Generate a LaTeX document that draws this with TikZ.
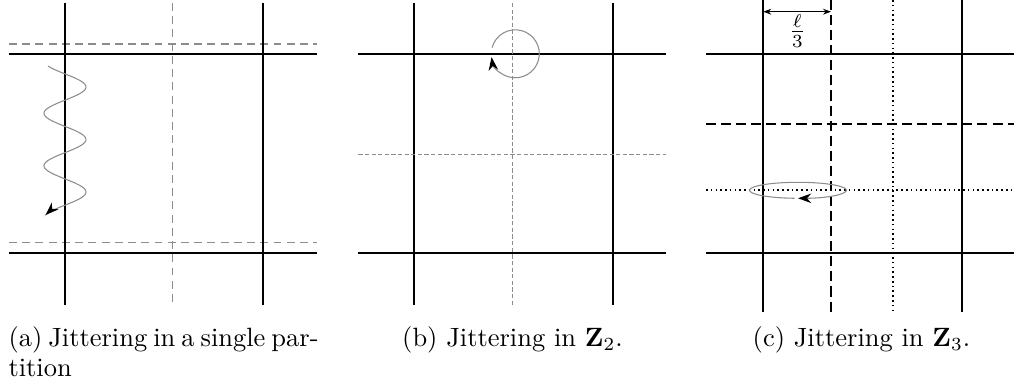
\documentclass[tikz,border=0pt]{standalone}
\usepackage{amsmath}
\usetikzlibrary{arrows.meta}
\begin{document}
\begin{tikzpicture}[x=0.378pt,y=-0.378pt,
  solidline/.style={line width=0.75pt,black},
  graydash/.style={line width=0.6pt,black!45,dash pattern=on 3pt off 2pt},
  grayfine/.style={line width=0.45pt,black!45,dash pattern=on 1.6pt off 0.9pt},
  blackdash/.style={line width=0.7pt,black,dash pattern=on 3.8pt off 1.9pt},
  blackdot/.style={line width=0.7pt,black,dash pattern=on 0.6pt off 1.2pt},
  jitter/.style={line width=0.4pt,black!45},
  bigtip/.style={-{Stealth[black,length=5pt,width=3.6pt]}},
  captext/.style={inner sep=0pt,anchor=base}]
\useasboundingbox (0,0) rectangle (1014,387);

% ---------- panel (a)
\draw[graydash] (9,44) -- (317,44);
\draw[graydash] (9,242.3) -- (317,242.3);
\draw[solidline] (9,54.3) -- (317,54.3);
\draw[solidline] (9,252.7) -- (317,252.7);
\draw[solidline] (65,3) -- (65,305);
\draw[solidline] (263,3) -- (263,305);
\draw[graydash] (172.7,3) -- (172.7,305);
\draw[jitter,bigtip] plot[domain=66:215,samples=150,smooth]
  ({65+21*sin((\x-73.9)*6.857)},\x);

% ---------- panel (b)
\draw[solidline] (358.3,54.3) -- (666,54.3);
\draw[solidline] (358.3,252.7) -- (666,252.7);
\draw[solidline] (414.3,3) -- (414.3,305);
\draw[solidline] (612.7,3) -- (612.7,305);
\draw[grayfine] (512.7,3) -- (512.7,305);
\draw[grayfine] (358.3,154.7) -- (666,154.7);
\coordinate (cc) at (515.3,53.8);
\draw[jitter,bigtip] (cc) ++(195:24) arc[start angle=195,end angle=532,radius=24];

% ---------- panel (c)
\draw[solidline] (706,54.3) -- (1014,54.3);
\draw[solidline] (706,252.7) -- (1014,252.7);
\draw[blackdash] (706,124.3) -- (1014,124.3);
\draw[blackdot] (706,190.3) -- (1014,190.3);
\draw[solidline] (763.3,0) -- (763.3,312);
\draw[solidline] (961.7,0) -- (961.7,312);
\draw[blackdash] (831,0) -- (831,312);
\draw[blackdot] (893.3,0) -- (893.3,312);
\coordinate (la) at (763.3,11.7);
\coordinate (lb) at (831,11.7);
\draw[line width=0.4pt,{Stealth[length=3pt,width=2.2pt]}-{Stealth[length=3pt,width=2.2pt]}] (la) -- (lb);
\node[inner sep=0pt] (frac) at (797.3,31) {$\frac{\ell}{3}$};
\coordinate (ec) at (798,190.3);
\draw[jitter,bigtip] (ec) ++(-266:48.5 and 8) arc[start angle=-266,end angle=90,x radius=48.5,y radius=8];

% ---------- captions
\node[captext,anchor=base west] (capa1) at (8,346.7) {\makebox[117.2pt][s]{(a) Jittering in a single par-}};
\node[captext,anchor=base west] (capa2) at (8,376.7) {tition};
\node[captext] (capb) at (512.5,346.7) {(b) Jittering in $\mathbf{Z}_2$.};
\node[captext] (capc) at (861.5,346.7) {(c) Jittering in $\mathbf{Z}_3$.};
\end{tikzpicture}
\end{document}
